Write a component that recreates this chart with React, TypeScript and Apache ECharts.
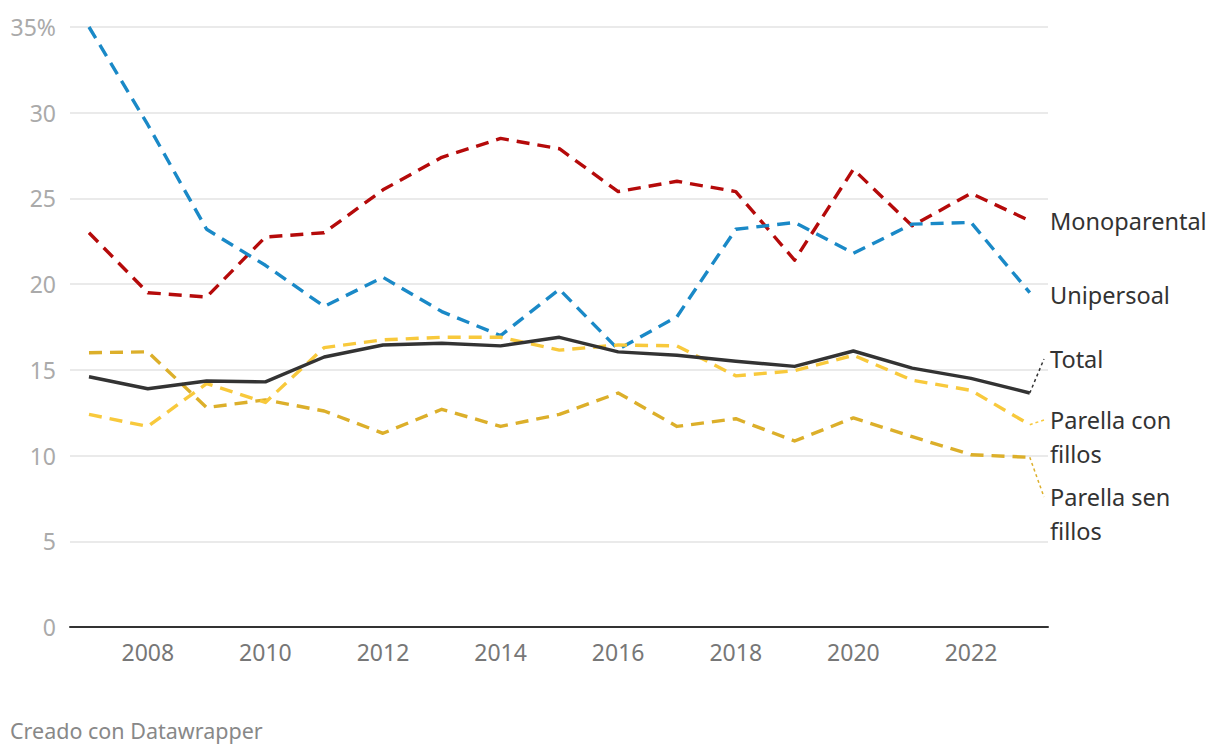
import React, { useEffect, useRef } from "react";
import * as echarts from "echarts";

const years = [2007, 2008, 2009, 2010, 2011, 2012, 2013, 2014, 2015, 2016, 2017, 2018, 2019, 2020, 2021, 2022, 2023];
const monoparental = [23.0, 19.5, 19.25, 22.75, 23.0, 25.5, 27.4, 28.5, 27.9, 25.4, 26.0, 25.4, 21.4, 26.7, 23.4, 25.3, 23.7];
const unipersoal = [35.0, 29.3, 23.2, 21.1, 18.7, 20.4, 18.4, 17.0, 19.7, 16.2, 18.1, 23.2, 23.6, 21.8, 23.5, 23.6, 19.5];
const total = [14.6, 13.9, 14.35, 14.3, 15.75, 16.45, 16.55, 16.4, 16.9, 16.05, 15.85, 15.5, 15.2, 16.1, 15.1, 14.5, 13.65];
const parellaCon = [12.4, 11.7, 14.2, 13.1, 16.3, 16.75, 16.9, 16.9, 16.15, 16.45, 16.4, 14.65, 14.95, 15.85, 14.4, 13.8, 11.8];
const parellaSen = [16.0, 16.05, 12.8, 13.25, 12.6, 11.3, 12.7, 11.7, 12.4, 13.65, 11.7, 12.15, 10.85, 12.2, 11.1, 10.05, 9.9];
const xTicks = [2008, 2010, 2012, 2014, 2016, 2018, 2020, 2022];

const seriesDefs = [
  { name: "Monoparental", data: monoparental, color: "#b50a0a", dashed: true, label: ["Monoparental"], labelY: 221, leader: false },
  { name: "Unipersoal", data: unipersoal, color: "#1a89c7", dashed: true, label: ["Unipersoal"], labelY: 295, leader: false },
  { name: "Parella sen fillos", data: parellaSen, color: "#dcaf2a", dashed: true, label: ["Parella sen", "fillos"], labelY: 497, leader: true },
  { name: "Parella con fillos", data: parellaCon, color: "#f8c93c", dashed: true, label: ["Parella con", "fillos"], labelY: 420, leader: true },
  { name: "Total", data: total, color: "#333333", dashed: false, label: ["Total"], labelY: 359, leader: true },
];

export default function App() {
  const ref = useRef<HTMLDivElement>(null);
  useEffect(() => {
    const chart = echarts.init(ref.current!, null, { renderer: "svg" });
    const font = "'Noto Sans', sans-serif";
    chart.setOption({
      animation: false,
      grid: { left: 70, right: 172, top: 27, bottom: 127, containLabel: false },
      xAxis: {
        type: "value",
        min: 2006.677,
        max: 2023.31,
        axisLine: { show: true, onZero: false, lineStyle: { color: "#333", width: 2 } },
        axisTick: { show: false },
        splitLine: { show: false },
        axisLabel: {
          customValues: xTicks,
          color: "#777",
          fontSize: 23,
          fontFamily: font,
          margin: 13,
          formatter: (v: number) => String(v),
        },
      },
      yAxis: {
        type: "value",
        min: 0,
        max: 35,
        interval: 5,
        axisLine: { show: false },
        axisTick: { show: false },
        splitLine: { lineStyle: { color: "#e3e3e3", width: 1.5 } },
        axisLabel: {
          color: "#aaa",
          fontSize: 23,
          fontFamily: font,
          margin: 14,
          formatter: (v: number) => (v === 35 ? "35%" : String(v)),
        },
      },
      series: seriesDefs.map((s) => ({
        type: "line",
        name: s.name,
        data: years.map((y, i) => [y, s.data[i]]),
        showSymbol: false,
        symbol: "none",
        lineStyle: { color: s.color, width: 3.4, type: s.dashed ? [13, 8] : "solid", cap: "butt", join: "round" },
        z: s.dashed ? 2 : 3,
      })),
    });

    const graphics: any[] = [];
    seriesDefs.forEach((s) => {
      const last = s.data[s.data.length - 1];
      const p = chart.convertToPixel({ gridIndex: 0 }, [years[years.length - 1], last]) as number[];
      s.label.forEach((line, k) => {
        graphics.push({
          type: "text",
          left: 1050,
          top: s.labelY - 12 + k * 34,
          style: { text: line, fill: "#333", font: `23.5px ${font}` },
        });
      });
      if (s.leader) {
        graphics.push({
          type: "line",
          shape: { x1: p[0], y1: p[1], x2: 1044, y2: s.labelY },
          style: { stroke: s.color, lineWidth: 1.5, lineDash: [3, 3] },
        });
      }
    });
    graphics.push({
      type: "text",
      left: 10,
      top: 719,
      style: { text: "Creado con Datawrapper", fill: "#888", font: `21.5px ${font}` },
    });
    chart.setOption({ graphic: graphics });

    return () => chart.dispose();
  }, []);
  return <div ref={ref} style={{ width: 1220, height: 754, position: "absolute", left: 0, top: 0 }} />;
}
